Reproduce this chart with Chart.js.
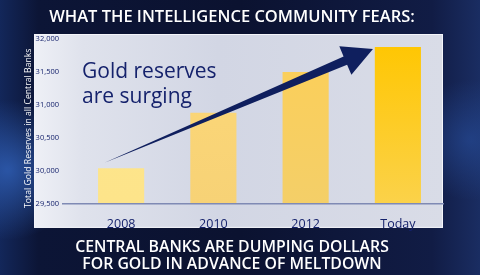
<!DOCTYPE html>
<html>
<head>
<meta charset="utf-8">
<script src="https://cdn.jsdelivr.net/npm/chart.js@4.4.1/dist/chart.umd.min.js"></script>
<style>
  html, body { margin: 0; padding: 0; background: #0b1230; }
  #wrap { width: 480px; height: 275px; position: relative; }
</style>
</head>
<body>
<div id="wrap"><canvas id="chart" width="480" height="275"></canvas></div>
<script>
// data
var years = ['2008', '2010', '2012', 'Today'];
var reserves = [30040, 30880, 31500, 31880];
var yMin = 29500;
var yMax = 32000;
var yStep = 500;

var titleText = 'WHAT THE INTELLIGENCE COMMUNITY FEARS:';
var bottomText = ['CENTRAL BANKS ARE DUMPING DOLLARS', 'FOR GOLD IN ADVANCE OF MELTDOWN'];
var axisTitle = 'Total Gold Reserves in all Central Banks      ';
var noteLines = ['Gold reserves', 'are surging'];

// arrow anchored in data space: [category index, value]
var arrowFrom = [-0.18, 30125];
var arrowTo = [2.73, 31850];

var barTop = ['#fde68c', '#fdd878', '#fccf58', '#ffc600'];
var barBottom = ['#fde48a', '#f7d276', '#f4cf68', '#fbd24a'];

var navy = '#15226c';

var backdrop = {
  id: 'backdrop',
  beforeDraw: function(chart) {
    var ctx = chart.ctx, a = chart.chartArea;
    ctx.save();
    // dark background
    var bg = ctx.createLinearGradient(0, 0, 480, 0);
    bg.addColorStop(0, '#13275a');
    bg.addColorStop(0.08, '#0c1536');
    bg.addColorStop(0.5, '#0b1230');
    bg.addColorStop(0.9, '#111c45');
    bg.addColorStop(1, '#1a2d62');
    ctx.fillStyle = bg;
    ctx.fillRect(0, 0, 480, 275);
    var glow = ctx.createRadialGradient(8, 170, 2, 8, 170, 70);
    glow.addColorStop(0, 'rgba(50,100,190,0.75)');
    glow.addColorStop(1, 'rgba(50,100,190,0)');
    ctx.fillStyle = glow;
    ctx.fillRect(0, 80, 80, 195);
    var glow2 = ctx.createRadialGradient(470, 140, 2, 470, 140, 60);
    glow2.addColorStop(0, 'rgba(40,80,160,0.55)');
    glow2.addColorStop(1, 'rgba(40,80,160,0)');
    ctx.fillStyle = glow2;
    ctx.fillRect(400, 60, 80, 180);
    // light panel
    var px = a.left - 41, py = a.top - 5, pw = a.right - px - 1, ph = a.bottom + 24 - py;
    var pg = ctx.createLinearGradient(px, 0, px + pw, 0);
    pg.addColorStop(0, '#eef0f6');
    pg.addColorStop(0.12, '#dfe2ec');
    pg.addColorStop(0.45, '#d2d6e4');
    pg.addColorStop(1, '#d9dce7');
    ctx.fillStyle = pg;
    ctx.fillRect(px, py, pw, ph);
    ctx.strokeStyle = '#f4f5fa';
    ctx.lineWidth = 1;
    ctx.strokeRect(px + 0.5, py + 0.5, pw - 1, ph - 1);
    ctx.restore();
  },
  afterDatasetsDraw: function(chart) {
    var ctx = chart.ctx, a = chart.chartArea;
    var xs = chart.scales.x, ys = chart.scales.y;
    ctx.save();
    // base line
    ctx.strokeStyle = '#7f8ab4';
    ctx.lineWidth = 1.5;
    ctx.beginPath();
    ctx.moveTo(a.left - 13, ys.getPixelForValue(yMin));
    ctx.lineTo(a.right, ys.getPixelForValue(yMin));
    ctx.stroke();
    // note text
    ctx.fillStyle = navy;
    ctx.font = '500 21px "Open Sans"';
    ctx.textBaseline = 'middle';
    ctx.textAlign = 'left';
    ctx.fillText(noteLines[0], a.left + 7, a.top + 33);
    ctx.fillText(noteLines[1], a.left + 7, a.top + 58);
    // arrow
    var x0 = xs.getPixelForValue(arrowFrom[0]), y0 = ys.getPixelForValue(arrowFrom[1]);
    var x1 = xs.getPixelForValue(arrowTo[0]), y1 = ys.getPixelForValue(arrowTo[1]);
    var dx = x1 - x0, dy = y1 - y0, len = Math.sqrt(dx * dx + dy * dy);
    var ux = dx / len, uy = dy / len, nx = -uy, ny = ux;
    var headLen = 30, headHalf = 15.5, shaftHalf = 4.5;
    var bx = x1 - ux * headLen, by = y1 - uy * headLen;
    ctx.fillStyle = '#0f1f5e';
    ctx.beginPath();
    ctx.moveTo(x0, y0);
    ctx.lineTo(bx + nx * shaftHalf, by + ny * shaftHalf);
    ctx.lineTo(bx + nx * headHalf, by + ny * headHalf);
    ctx.lineTo(x1, y1);
    ctx.lineTo(bx - nx * headHalf, by - ny * headHalf);
    ctx.lineTo(bx - nx * shaftHalf, by - ny * shaftHalf);
    ctx.closePath();
    ctx.fill();
    ctx.restore();
  }
};

var chart = new Chart('chart', {
  type: 'bar',
  data: {
    labels: years,
    datasets: [{
      data: reserves,
      borderWidth: 0,
      backgroundColor: function(c) {
        var a = c.chart.chartArea;
        if (!a) return barTop[c.dataIndex];
        var g = c.chart.ctx.createLinearGradient(0, a.top, 0, a.bottom);
        g.addColorStop(0, barTop[c.dataIndex]);
        g.addColorStop(1, barBottom[c.dataIndex]);
        return g;
      },
      barPercentage: 0.5,
      categoryPercentage: 1
    }]
  },
  options: {
    responsive: false,
    animation: false,
    layout: { padding: { left: 20, right: 36, top: 0, bottom: 0 } },
    plugins: {
      legend: { display: false },
      tooltip: { enabled: false },
      title: {
        display: true,
        text: titleText,
        color: '#ffffff',
        font: { family: 'Open Sans', size: 16.5, weight: '600', lineHeight: 1.2 },
        padding: { top: 7, bottom: 12.2 }
      },
      subtitle: {
        display: true,
        position: 'bottom',
        text: bottomText,
        color: '#ffffff',
        font: { family: 'Open Sans', size: 15.8, weight: '600', lineHeight: 1.08 },
        padding: { top: 0, bottom: 1.5 }
      }
    },
    scales: {
      x: {
        grid: { display: false },
        border: { display: false },
        ticks: { color: navy, padding: 5, font: { family: 'Open Sans', size: 12.5, weight: '500' } },
        afterFit: function(s) { s.height = 35.5; }
      },
      y: {
        min: yMin,
        max: yMax,
        grid: { display: false, drawTicks: false },
        border: { display: false },
        ticks: {
          stepSize: yStep,
          color: navy,
          padding: 16,
          font: { family: 'Open Sans', size: 7.5 },
          callback: function(v) { return v.toLocaleString('en-US'); }
        },
        title: {
          display: true,
          text: axisTitle,
          color: '#ffffff',
          font: { family: 'Open Sans', size: 8.7 },
          padding: { top: 3.5, bottom: 0 }
        },
        afterFit: function(s) { s.width = 55; }
      }
    }
  },
  plugins: [backdrop]
});
</script>
</body>
</html>
